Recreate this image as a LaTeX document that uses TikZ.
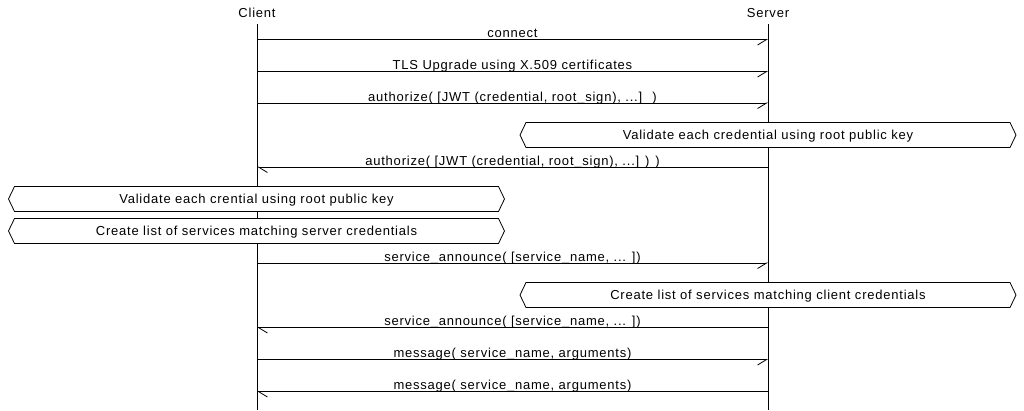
\documentclass[tikz,border=0pt]{standalone}
\usepackage{fontspec}
\setmainfont{Liberation Sans}[LetterSpace=6]
\usetikzlibrary{arrows.meta}
\tikzset{
  lbl/.style={font=\fontsize{13}{15}\selectfont, inner sep=0pt, anchor=base},
  life/.style={line width=0.8pt},
  msgr/.style={line width=0.8pt, -{Straight Barb[right,length=9pt,width=11pt]}},
  msgl/.style={line width=0.8pt, -{Straight Barb[left,length=9pt,width=11pt]}},
  hexbox/.style={draw, fill=white, line width=0.8pt},
}
\newcommand{\hexat}[2]{% center x, top y
  \draw[hexbox] (#1-242,#2) -- (#1+242,#2) -- (#1+248,#2+12.5) -- (#1+242,#2+25)
    -- (#1-242,#2+25) -- (#1-248,#2+12.5) -- cycle;
}
\begin{document}
\begin{tikzpicture}[x=1pt,y=-1pt]
\useasboundingbox (0,0) rectangle (1024,410);
% entities
\node[lbl] (client) at (257,17) {Client};
\node[lbl] (server) at (768,17) {Server};
\coordinate (ctop) at (257,24);
\coordinate (cbot) at (257,410);
\coordinate (stop) at (768,24);
\coordinate (sbot) at (768,410);
\draw[life] (ctop) -- (cbot);
\draw[life] (stop) -- (sbot);
% message end points
\foreach \i/\y in {1/39.5,2/71.5,3/103,4/167,5/263,6/327.5,7/359.5,8/391.5}{
  \coordinate (c\i) at (257,\y);
  \coordinate (s\i) at (768,\y);
}
\draw[msgr] (c1) -- (s1);
\node[lbl] (m1) at (512.5,37.5) {connect};
\draw[msgr] (c2) -- (s2);
\node[lbl] (m2) at (512.5,69.5) {TLS Upgrade using X.509 certificates};
\draw[msgr] (c3) -- (s3);
\node[lbl] (m3) at (512.5,101) {authorize( [JWT (credential, root\_sign), ...]~ )};
% server box 1
\hexat{768}{122.5}
\node[lbl] (b1) at (768,139.5) {Validate each credential using root public key};
\draw[msgl] (s4) -- (c4);
\node[lbl] (m4) at (512.5,165) {authorize( [JWT (credential, root\_sign), ...] ) )};
% client boxes
\hexat{256.5}{186.5}
\node[lbl] (b2) at (256.5,203.5) {Validate each crential using root public key};
\hexat{256.5}{218.5}
\node[lbl] (b3) at (256.5,235.5) {Create list of services matching server credentials};
\draw[msgr] (c5) -- (s5);
\node[lbl] (m5) at (512.5,261) {service\_announce( [service\_name, ... ])};
% server box 2
\hexat{768}{282.5}
\node[lbl] (b4) at (768,299.5) {Create list of services matching client credentials};
\draw[msgl] (s6) -- (c6);
\node[lbl] (m6) at (512.5,325.5) {service\_announce( [service\_name, ... ])};
\draw[msgr] (c7) -- (s7);
\node[lbl] (m7) at (512.5,357.5) {message( service\_name, arguments)};
\draw[msgl] (s8) -- (c8);
\node[lbl] (m8) at (512.5,389.5) {message( service\_name, arguments)};
\end{tikzpicture}
\end{document}
